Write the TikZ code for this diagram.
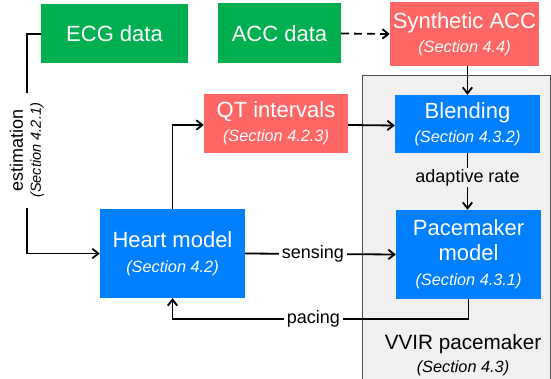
\documentclass[tikz,border=0pt]{standalone}
\usepackage{fontspec}
\setmainfont{Liberation Sans}
\usetikzlibrary{arrows.meta}
\definecolor{datagreen}{HTML}{00B050}
\definecolor{estred}{HTML}{FF6666}
\definecolor{modelblue}{HTML}{007FFF}
\definecolor{panelgray}{HTML}{F0F0F0}
\definecolor{paneledge}{HTML}{4D4D4D}
% italic section reference under a block title
\newcommand{\secref}[1]{{\fontsize{16.3}{25}\selectfont\itshape(Section #1)}}

\begin{document}
\begin{tikzpicture}[x=1pt,y=-1pt,
  blockbox/.style={inner sep=0pt, text=white, align=center,
    font=\fontsize{22}{25}\selectfont},
  link/.style={line width=1.8pt, -{Straight Barb[length=6pt,width=9.5pt]}},
  tag/.style={font=\fontsize{18}{22}\selectfont, inner xsep=3pt, inner ysep=1pt}
]
\useasboundingbox (0,0) rectangle (551,379);

% pacemaker panel
\node[draw=paneledge, fill=panelgray, line width=1pt, inner sep=0pt,
  minimum width=188pt, minimum height=304pt, anchor=north west] (panel) at (362,75) {};
\node[align=center, font=\fontsize{20.7}{23}\selectfont] (paneltitle) at (463,355)
  {VVIR pacemaker\\{\fontsize{16.3}{23}\selectfont\itshape(Section 4.3)}};

% blocks
\node[blockbox, fill=datagreen, minimum width=147pt, minimum height=59pt] (ecg) at (114.5,34) {ECG data};
\node[blockbox, fill=datagreen, minimum width=123pt, minimum height=60pt] (acc) at (279.5,33.5) {ACC data};
\node[blockbox, fill=estred, minimum width=149pt, minimum height=64pt] (synth) at (464.5,34)
  {Synthetic ACC\\[-1pt]\secref{4.4}};
\node[blockbox, fill=estred, minimum width=144pt, minimum height=59pt] (qt) at (276,123.5)
  {QT intervals\\[-1pt]\secref{4.2.3}};
\node[blockbox, fill=modelblue, minimum width=145pt, minimum height=58pt] (blend) at (467.5,124)
  {Blending\\[-1pt]\secref{4.3.2}};
\node[blockbox, fill=modelblue, minimum width=145pt, minimum height=89pt] (heart) at (172.5,253.5)
  {Heart model\\\secref{4.2}};
\node[blockbox, fill=modelblue, minimum width=145pt, minimum height=89pt] (pacer) at (468.5,254.5)
  {Pacemaker\\model\\\secref{4.3.1}};

% connectors
\draw[link] (ecg.west) -- ++(-14,0) |-
  node[pos=0.265, rotate=90, fill=white, align=center, inner xsep=10pt, inner ysep=1pt,
       font=\fontsize{18}{18}\selectfont]
  {estimation\\{\fontsize{14.6}{18}\selectfont\itshape(Section 4.2.1)}} (heart.west);
\draw[link, dash pattern=on 8pt off 5pt] (acc.east) -- (synth.west);
\draw[link] (blend.north |- synth.south) -- (blend.north);
\draw[link] (heart.north) |- ([yshift=-1.5pt]qt.west);
\draw[link] ([yshift=-1.5pt]qt.east) -- ([yshift=-1.5pt]blend.west);
\draw[link] (blend.south) --
  node[tag, fill=panelgray, pos=0.43] {adaptive rate} (blend.south |- pacer.north);
\draw[link] (heart.east) -- node[tag, fill=white, pos=0.45] {sensing} (pacer.west);
\draw[link] (pacer.south) -- ++(0,20) -|
  node[tag, fill=white, pos=0.262] {pacing} (heart.south);
\end{tikzpicture}
\end{document}
